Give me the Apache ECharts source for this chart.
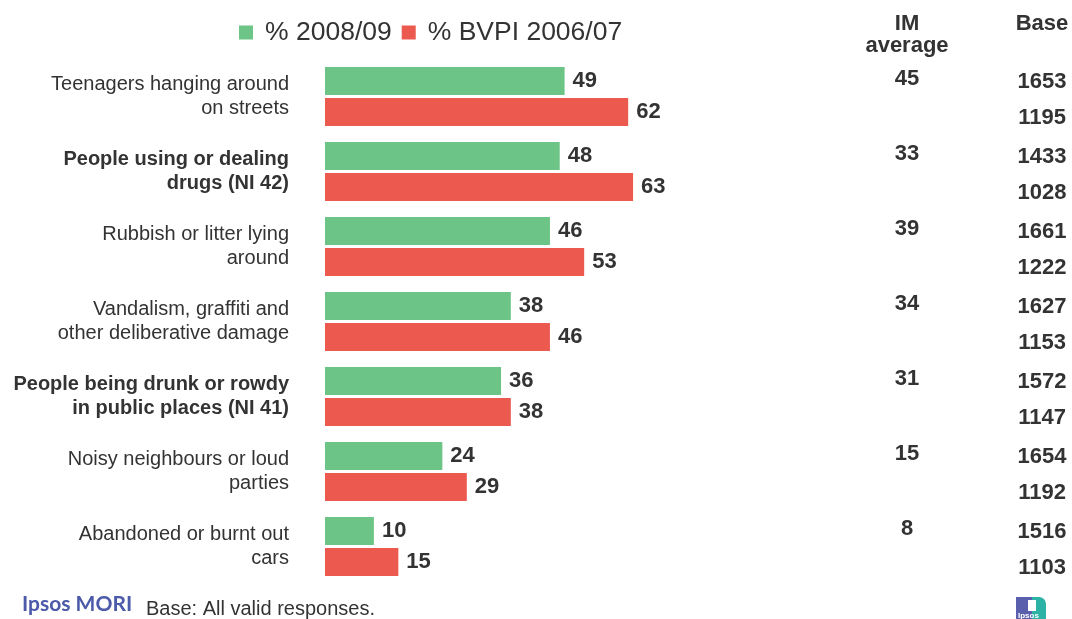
<!DOCTYPE html>
<html>
<head>
<meta charset="utf-8">
<title>Anti-social behaviour perceptions</title>
<script src="https://cdn.jsdelivr.net/npm/echarts@6/dist/echarts.min.js"></script>
<style>
  html, body { margin: 0; padding: 0; background: #ffffff; }
  #chart { width: 1072px; height: 619px; }
</style>
</head>
<body>
<div id="chart"></div>
<script>
// Problems seen as big in the local area (%)
const categories = [
  'Teenagers hanging around\non streets',
  'People using or dealing\ndrugs (NI 42)',
  'Rubbish or litter lying\naround',
  'Vandalism, graffiti and\nother deliberative damage',
  'People being drunk or rowdy\nin public places (NI 41)',
  'Noisy neighbours or loud\nparties',
  'Abandoned or burnt out\ncars'
];
const seriesNames = ['% 2008/09', '% BVPI 2006/07'];
const values2008 = [49, 48, 46, 38, 36, 24, 10];
const valuesBVPI = [62, 63, 53, 46, 38, 29, 15];
const imAverage = [45, 33, 39, 34, 31, 15, 8];
const base2008 = [1653, 1433, 1661, 1627, 1572, 1654, 1516];
const baseBVPI = [1195, 1028, 1222, 1153, 1147, 1192, 1103];
const sideColumns = ['IM\naverage', 'Base'];

const FONT = '"Liberation Sans", Arial, Helvetica, sans-serif';
const TEXT = '#333333';
const GREEN = '#6cc486';
const RED = '#ec594e';

// National Indicator items (NI xx) are shown in bold
function categoryLabel(value) {
  const style = value.indexOf('(NI ') >= 0 ? 'b' : 'n';
  return value.split('\n').map(function (l) { return '{' + style + '|' + l + '}'; }).join('\n');
}

const valueLabel = {
  show: true,
  position: 'right',
  distance: 8,
  fontFamily: FONT,
  fontSize: 22,
  fontWeight: 'bold',
  color: TEXT
};

// Text-only column (IM average / Base) placed on the side grid's axes
function columnSeries(name, column, list, dy) {
  return {
    name: name,
    type: 'custom',
    xAxisIndex: 1,
    yAxisIndex: 1,
    silent: true,
    renderItem: function (params, api) {
      const pt = api.coord([api.value(0), api.value(1)]);
      return {
        type: 'text',
        x: pt[0],
        y: pt[1] + dy,
        style: {
          text: String(api.value(2)),
          font: 'bold 22px ' + FONT,
          fill: TEXT,
          align: 'center',
          verticalAlign: 'middle'
        }
      };
    },
    data: list.map(function (v, i) { return [column, categories[i], v]; })
  };
}

const chart = echarts.init(document.getElementById('chart'), null, { renderer: 'canvas' });

chart.setOption({
  animation: false,
  backgroundColor: '#ffffff',
  legend: {
    data: seriesNames,
    left: 234,
    top: 14,
    icon: 'rect',
    itemWidth: 14,
    itemHeight: 14,
    itemGap: 10,
    textStyle: {
      fontFamily: FONT,
      fontSize: 26.5,
      color: TEXT,
      padding: [0, 0, 0, 7]
    }
  },
  grid: [
    { left: 325, width: 489, top: 59, bottom: 35 },
    { left: 907, width: 135, top: 59, bottom: 35 }
  ],
  xAxis: [
    {
      type: 'value',
      gridIndex: 0,
      min: 0,
      max: 100,
      show: false
    },
    {
      type: 'category',
      gridIndex: 1,
      position: 'top',
      boundaryGap: false,
      data: sideColumns,
      axisLine: { show: false },
      axisTick: { show: false },
      splitLine: { show: false },
      axisLabel: {
        margin: 46,
        verticalAlign: 'top',
        fontFamily: FONT,
        fontSize: 22,
        fontWeight: 'bold',
        lineHeight: 22,
        color: TEXT
      }
    }
  ],
  yAxis: [
    {
      type: 'category',
      gridIndex: 0,
      inverse: true,
      data: categories,
      axisLine: { show: false },
      axisTick: { show: false },
      splitLine: { show: false },
      axisLabel: {
        margin: 36,
        formatter: categoryLabel,
        rich: {
          n: { fontFamily: FONT, fontSize: 20, lineHeight: 24, color: TEXT },
          b: { fontFamily: FONT, fontSize: 20, lineHeight: 24, color: TEXT, fontWeight: 'bold' }
        }
      }
    },
    {
      type: 'category',
      gridIndex: 1,
      inverse: true,
      data: categories,
      show: false
    }
  ],
  series: [
    {
      name: seriesNames[0],
      type: 'bar',
      xAxisIndex: 0,
      yAxisIndex: 0,
      barWidth: 28,
      barGap: '10%',
      itemStyle: { color: GREEN },
      label: valueLabel,
      data: values2008
    },
    {
      name: seriesNames[1],
      type: 'bar',
      xAxisIndex: 0,
      yAxisIndex: 0,
      barWidth: 28,
      barGap: '10%',
      itemStyle: { color: RED },
      label: valueLabel,
      data: valuesBVPI
    },
    columnSeries('IM average', sideColumns[0], imAverage, -18),
    columnSeries('Base 2008/09', sideColumns[1], base2008, -15),
    columnSeries('Base 2006/07', sideColumns[1], baseBVPI, 21.5)
  ],
  graphic: [
    {
      type: 'text',
      left: 22,
      top: 594,
      style: {
        text: 'Ipsos MORI',
        font: 'bold 21px Lato, "Open Sans", sans-serif',
        fill: '#4b5aa9'
      }
    },
    {
      type: 'text',
      left: 146,
      top: 599,
      style: {
        text: 'Base: All valid responses.',
        font: '20px ' + FONT,
        fill: TEXT
      }
    },
    // small Ipsos mark in the corner
    {
      type: 'group',
      left: 1016,
      top: 597,
      children: [
        { type: 'rect', shape: { x: 0, y: 0, width: 16, height: 22 }, style: { fill: '#5a5fad' } },
        { type: 'rect', shape: { x: 16, y: 0, width: 14, height: 22, r: [0, 7, 0, 0] }, style: { fill: '#2db3a6' } },
        { type: 'rect', shape: { x: 12, y: 3, width: 8, height: 11 }, style: { fill: '#ffffff' } },
        {
          type: 'text',
          x: 2,
          y: 15,
          style: { text: 'Ipsos', font: 'bold 8px ' + FONT, fill: '#ffffff' }
        }
      ]
    }
  ]
});
</script>
</body>
</html>
